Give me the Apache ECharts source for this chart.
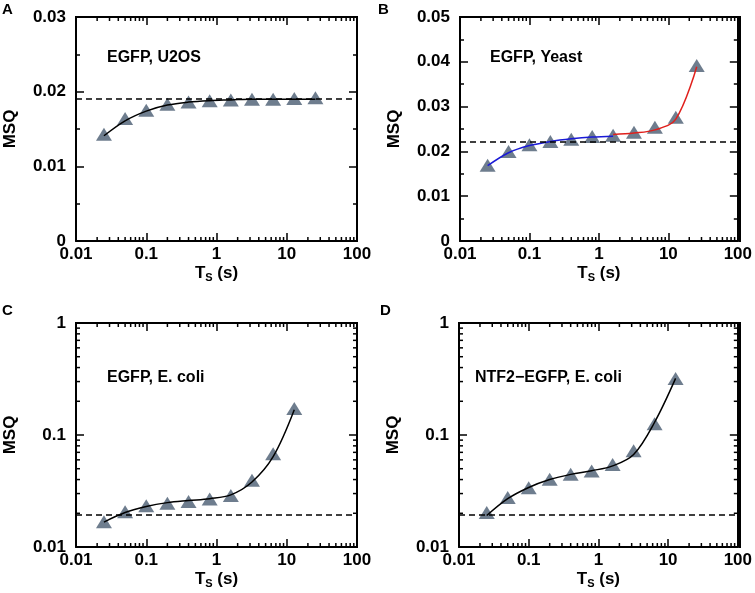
<!DOCTYPE html>
<html>
<head>
<meta charset="utf-8">
<script src="https://cdn.jsdelivr.net/npm/echarts@6/dist/echarts.min.js"></script>
<style>
html,body{margin:0;padding:0;background:#fff;}
#chart{width:755px;height:593px;}
</style>
</head>
<body>
<div id="chart"></div>
<script>
// ---------- data ----------
const xTs = [0.025, 0.05, 0.1, 0.2, 0.4, 0.8, 1.6, 3.2, 6.4, 12.8, 25.6];

const msqA = [0.0143, 0.0164, 0.0175, 0.0183, 0.0186, 0.0188, 0.0189, 0.0190, 0.0190, 0.0191, 0.0192];
const fitA = [0.0141, 0.0161, 0.0174, 0.0182, 0.0186, 0.0188, 0.0189, 0.0190, 0.0190, 0.0190, 0.0190];
const refA = 0.0190;

const msqB = [0.0169, 0.0200, 0.0215, 0.0222, 0.0227, 0.0233, 0.0236, 0.0243, 0.0254, 0.0276, 0.0392];
const fitBBlue = [0.0168, 0.0197, 0.0213, 0.0222, 0.0228, 0.0232, 0.0234];
const xBBlue = [0.025, 0.05, 0.1, 0.2, 0.4, 0.8, 1.6];
const fitBRed = [0.0238, 0.0241, 0.0248, 0.0272, 0.0389];
const xBRed = [1.6, 3.2, 6.4, 12.8, 25.6];
const refB = 0.0222;

const xTsC = [0.025, 0.05, 0.1, 0.2, 0.4, 0.8, 1.6, 3.2, 6.4, 12.8];
const msqC = [0.0168, 0.0206, 0.0233, 0.0246, 0.0255, 0.0268, 0.0288, 0.0395, 0.0680, 0.172];
const fitC = [0.0167, 0.0203, 0.0230, 0.0249, 0.0260, 0.0270, 0.0292, 0.0380, 0.0640, 0.168];
const refC = 0.0193;

const msqD = [0.0203, 0.0276, 0.0338, 0.0402, 0.0446, 0.0478, 0.0546, 0.0725, 0.126, 0.320];
const fitD = [0.0191, 0.0270, 0.0340, 0.0400, 0.0445, 0.0480, 0.0530, 0.0670, 0.1300, 0.320];
const refD = 0.0193;

const xTickLabels = ['0.01', '0.1', '1', '10', '100'];
const yTickLabelsA = ['0', '0.01', '0.02', '0.03'];
const yTickLabelsB = ['0', '0.01', '0.02', '0.03', '0.04', '0.05'];
const yTickLabelsLog = ['0.01', '0.1', '1'];
const logMinorTicks = [0.02,0.03,0.04,0.05,0.06,0.07,0.08,0.09,0.2,0.3,0.4,0.5,0.6,0.7,0.8,0.9,2,3,4,5,6,7,8,9,20,30,40,50,60,70,80,90];
const logMinorTicksY = [0.02,0.03,0.04,0.05,0.06,0.07,0.08,0.09,0.2,0.3,0.4,0.5,0.6,0.7,0.8,0.9];

const panelLetters = ['A', 'B', 'C', 'D'];
const panelNotes = ['EGFP, U2OS', 'EGFP, Yeast', 'EGFP, E. coli', 'NTF2\u2212EGFP, E. coli'];

// ---------- layout / style ----------
const FONT = 'Liberation Sans, Arial, sans-serif';
const grids = [
  {left: 76, top: 17, width: 281, height: 224},
  {left: 460, top: 17, width: 280, height: 224},
  {left: 76, top: 323, width: 281, height: 224},
  {left: 459, top: 323, width: 281, height: 224}
];
const MAJ = 8, MIN = 4;
const triColor = '#6e7d8e';

const xAxes = [], yAxes = [], series = [];

function fmtX(v) {
  const i = Math.round(Math.log10(v)) + 2;
  return xTickLabels[i] !== undefined ? xTickLabels[i] : '';
}
function axLine() { return {show: true, onZero: false, lineStyle: {color: '#000', width: 2}}; }
function axTick() { return {show: true, inside: true, length: MAJ, lineStyle: {color: '#000', width: 1.5}}; }

grids.forEach((g, i) => {
  // bottom x
  xAxes.push({
    type: 'log', logBase: 10, gridIndex: i, min: 0.01, max: 100, position: 'bottom',
    axisLine: axLine(), axisTick: axTick(),
    axisLabel: {show: true, formatter: fmtX, color: '#000', fontFamily: FONT, fontWeight: 'bold', fontSize: 17, margin: 5},
    splitLine: {show: false},
    name: '{t|T}{s|S}{t| (s)}', nameLocation: 'middle', nameGap: 22,
    nameTextStyle: {rich: {
      t: {fontFamily: FONT, fontWeight: 'bold', fontSize: 17, color: '#000'},
      s: {fontFamily: FONT, fontWeight: 'bold', fontSize: 11, color: '#000', padding: [9, 0, 0, 0]}
    }}
  });
  // top x
  xAxes.push({
    type: 'log', logBase: 10, gridIndex: i, min: 0.01, max: 100, position: 'top',
    axisLine: axLine(), axisTick: axTick(),
    axisLabel: {show: false}, splitLine: {show: false}
  });
  let ycfg;
  if (i === 0) {
    ycfg = {type: 'value', min: 0, max: 0.03, interval: 0.01, labels: yTickLabelsA, step: 0.01};
  } else if (i === 1) {
    ycfg = {type: 'value', min: 0, max: 0.05, interval: 0.01, labels: yTickLabelsB, step: 0.01};
  } else {
    ycfg = {type: 'log', min: 0.01, max: 1, labels: yTickLabelsLog};
  }
  const yFmt = ycfg.type === 'log'
    ? (v => { const k = Math.round(Math.log10(v)) + 2; return ycfg.labels[k] || ''; })
    : (v => { const k = Math.round(v / ycfg.step); return ycfg.labels[k] || ''; });
  function baseY() {
    const b = {
      type: ycfg.type, gridIndex: i, min: ycfg.min, max: ycfg.max,
      axisLine: axLine(), axisTick: axTick(),
      splitLine: {show: false}
    };
    if (ycfg.type === 'log') b.logBase = 10;
    else {
      b.interval = ycfg.interval;
      b.minorTick = {show: true, splitNumber: 2, length: MIN, lineStyle: {color: '#000', width: 1.5}};
      b.minorSplitLine = {show: false};
    }
    return b;
  }
  yAxes.push(Object.assign(baseY(), {
    position: 'left',
    axisLabel: {show: true, formatter: yFmt, color: '#000', fontFamily: FONT, fontWeight: 'bold', fontSize: 17, margin: 10},
    name: 'MSQ', nameLocation: 'middle', nameGap: 57,
    nameTextStyle: {fontFamily: FONT, fontWeight: 'bold', fontSize: 17, color: '#000'}
  }));
  yAxes.push(Object.assign(baseY(), {
    position: 'right', axisLabel: {show: false}
  }));

  // minor ticks on log x axes (bottom + top)
  series.push({
    type: 'custom', xAxisIndex: i * 2, yAxisIndex: i * 2, silent: true, clip: false, z: 5,
    data: logMinorTicks.map(v => [v, ycfg.min]),
    renderItem: function (params, api) {
      const cs = params.coordSys;
      const p = api.coord([api.value(0), ycfg.min]);
      const x = p[0];
      const bottom = cs.y + cs.height, top = cs.y;
      return {type: 'group', children: [
        {type: 'line', shape: {x1: x, y1: bottom, x2: x, y2: bottom - MIN}, style: {stroke: '#000', lineWidth: 1.5}},
        {type: 'line', shape: {x1: x, y1: top, x2: x, y2: top + MIN}, style: {stroke: '#000', lineWidth: 1.5}}
      ]};
    }
  });
  if (ycfg.type === 'log') {
    series.push({
      type: 'custom', xAxisIndex: i * 2, yAxisIndex: i * 2, silent: true, clip: false, z: 5,
      data: logMinorTicksY.map(v => [0.01, v]),
      renderItem: function (params, api) {
        const cs = params.coordSys;
        const p = api.coord([0.01, api.value(1)]);
        const y = p[1];
        const left = cs.x, right = cs.x + cs.width;
        return {type: 'group', children: [
          {type: 'line', shape: {x1: left, y1: y, x2: left + MIN, y2: y}, style: {stroke: '#000', lineWidth: 1.5}},
          {type: 'line', shape: {x1: right, y1: y, x2: right - MIN, y2: y}, style: {stroke: '#000', lineWidth: 1.5}}
        ]};
      }
    });
  }
});

function zip(xs, ys) { return ys.map((y, k) => [xs[k], y]); }

function scatterSeries(i, xs, ys, ref) {
  return {
    type: 'scatter', xAxisIndex: i * 2, yAxisIndex: i * 2, z: 2,
    symbol: 'triangle', symbolSize: [16, 13],
    itemStyle: {color: triColor, opacity: 1},
    data: zip(xs, ys),
    markLine: {
      silent: true, symbol: ['none', 'none'], label: {show: false}, precision: 6,
      lineStyle: {color: '#000', type: [6, 4], width: 1.5},
      data: [{yAxis: ref}]
    }
  };
}
function lineSeries(i, xs, ys, color) {
  return {
    type: 'line', xAxisIndex: i * 2, yAxisIndex: i * 2, z: 4,
    showSymbol: false, symbol: 'none', smooth: 0.35,
    lineStyle: {color: color, width: 1.5},
    data: zip(xs, ys)
  };
}

series.push(scatterSeries(0, xTs, msqA, refA));
series.push(lineSeries(0, xTs, fitA, '#000'));
series.push(scatterSeries(1, xTs, msqB, refB));
series.push(lineSeries(1, xBBlue, fitBBlue, '#1a1ad6'));
series.push(lineSeries(1, xBRed, fitBRed, '#e0201c'));
series.push(scatterSeries(2, xTsC, msqC, refC));
series.push(lineSeries(2, xTsC, fitC, '#000'));
series.push(scatterSeries(3, xTsC, msqD, refD));
series.push(lineSeries(3, xTsC, fitD, '#000'));

const letterPos = [[2, 2], [378, 2], [2, 303], [380, 303]];
const notePos = [[107, 58], [490, 58], [107, 378], [475, 378]];
const graphic = [];
// plot frames: solid bars along the top and right edges of each grid
grids.forEach(g => {
  graphic.push({type: 'rect', silent: true, z: 100,
    shape: {x: g.left - 1, y: g.top - 1, width: g.width + 2, height: 2},
    style: {fill: '#000'}});
  graphic.push({type: 'rect', silent: true, z: 100,
    shape: {x: g.left + g.width - 1, y: g.top - 1, width: 2, height: g.height + 2},
    style: {fill: '#000'}});
});
panelLetters.forEach((t, k) => {
  graphic.push({type: 'text', left: letterPos[k][0], top: letterPos[k][1],
    style: {text: t, fontFamily: FONT, fontWeight: 'bold', fontSize: 15, fill: '#000'}});
});
panelNotes.forEach((t, k) => {
  graphic.push({type: 'text', x: notePos[k][0], y: notePos[k][1],
    style: {text: t, fontFamily: FONT, fontWeight: 'bold', fontSize: 16, fill: '#000', textVerticalAlign: 'middle'}});
});

const chart = echarts.init(document.getElementById('chart'), null, {renderer: 'canvas'});
chart.setOption({
  animation: false,
  backgroundColor: '#fff',
  grid: grids.map(g => Object.assign({containLabel: false}, g)),
  xAxis: xAxes,
  yAxis: yAxes,
  series: series,
  graphic: graphic
});
</script>
</body>
</html>
